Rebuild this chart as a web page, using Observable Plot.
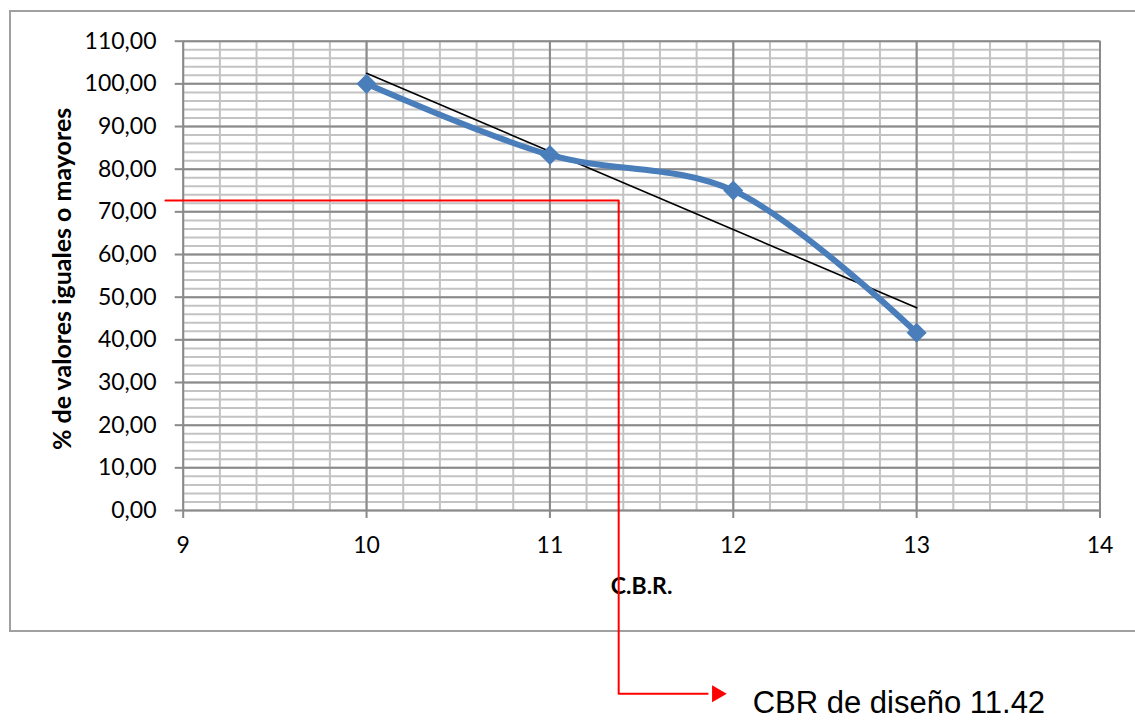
<!DOCTYPE html>
<html>
<head>
<meta charset="utf-8">
<script src="https://cdn.jsdelivr.net/npm/d3@7"></script>
<script src="https://cdn.jsdelivr.net/npm/@observablehq/plot@0.6"></script>
<style>
  html, body { margin: 0; padding: 0; background: #fff; }
  #wrap { position: relative; width: 1135px; height: 720px; overflow: hidden; }
  #border { position: absolute; left: 9px; top: 10px; width: 1140px; height: 622px; border: 2px solid #a0a0a0; box-sizing: border-box; }
  #chart { position: absolute; left: 0; top: 0; }
</style>
</head>
<body>
<div id="wrap"><div id="border"></div><div id="chart"></div></div>
<script>
// Data series
const cbr = [10, 11, 12, 13];
const pct = [100.00, 83.33, 75.00, 41.67];
// Axis ticks
const xTicks = [9, 10, 11, 12, 13, 14];
const yTicks = [0, 10, 20, 30, 40, 50, 60, 70, 80, 90, 100, 110];
const xMinorStep = 0.2;
const yMinorStep = 2;
// Annotation (red guide to design CBR)
const guideX = [8.903, 11.375, 11.375, 11.86];
const guideY = [72.67, 72.67, -42.97, -42.97];
const arrowX = [11.911];
const arrowY = [-42.97];
const noteX = [12.106];
const noteY = [-45.1];
const noteText = ["CBR de diseño 11.42"];
const xLabel = "C.B.R.";
const yLabel = "% de valores iguales o mayores";

const data = cbr.map((x, i) => ({x, y: pct[i]}));
const guide = guideX.map((x, i) => ({x, y: guideY[i]}));
const xMinor = d3.range(9, 14.0001, xMinorStep);
const yMinor = d3.range(0, 110.0001, yMinorStep);
const fmt = d => d.toFixed(2).replace(".", ",");

const chart = Plot.plot({
  width: 1135,
  height: 720,
  marginLeft: 182.7,
  marginRight: 35.5,
  marginTop: 40.7,
  marginBottom: 210,
  style: {fontFamily: "Lato, sans-serif", fontSize: "23px", color: "#000", background: "transparent", overflow: "visible"},
  x: {domain: [9, 14]},
  y: {domain: [0, 110]},
  marks: [
    Plot.ruleX(xMinor, {stroke: "#c3c3c3", strokeWidth: 2}),
    Plot.ruleY(yMinor, {stroke: "#c3c3c3", strokeWidth: 2}),
    Plot.ruleX(xTicks, {stroke: "#8a8a8a", strokeWidth: 2}),
    Plot.ruleY(yTicks, {stroke: "#8a8a8a", strokeWidth: 2}),
    Plot.axisX({ticks: xTicks, tickSize: 8, tickPadding: 18, stroke: "#8a8a8a", strokeWidth: 2, tickFormat: d => String(d), label: null, fill: "#000", fontSize: 23}),
    Plot.axisY({ticks: yTicks, tickSize: 8, tickPadding: 18.7, stroke: "#8a8a8a", strokeWidth: 2, tickFormat: fmt, label: null, fill: "#000", fontSize: 23}),
    Plot.text([xLabel], {frameAnchor: "bottom", dy: 76, textAnchor: "middle", lineAnchor: "middle", fontWeight: "bold", fontSize: 23, fill: "#000"}),
    Plot.text([yLabel], {frameAnchor: "left", dx: -120, dy: 3, rotate: -90, textAnchor: "middle", lineAnchor: "middle", fontWeight: "bold", fontSize: 25, fill: "#000"}),
    Plot.linearRegressionY(data, {x: "x", y: "y", ci: 0, stroke: "#000", strokeWidth: 1.6}),
    Plot.line(data, {x: "x", y: "y", curve: "catmull-rom", stroke: "#4a7ebb", strokeWidth: 6, strokeLinejoin: "round"}),
    Plot.dot(data, {x: "x", y: "y", symbol: "square", rotate: 45, r: 8, fill: "#4a7ebb", stroke: "none"}),
    Plot.line(guide, {x: "x", y: "y", stroke: "#ff0000", strokeWidth: 2, curve: "linear"}),
    Plot.dot(arrowX.map((x, i) => ({x, y: arrowY[i]})), {x: "x", y: "y", symbol: "triangle", rotate: 90, r: 6.3, fill: "#ff0000", stroke: "none"}),
    Plot.text(noteText.map((t, i) => ({t, x: noteX[i], y: noteY[i]})), {x: "x", y: "y", text: "t", textAnchor: "start", lineAnchor: "middle", fontFamily: "'Liberation Sans', Arial, sans-serif", fontSize: 31, fill: "#000"})
  ]
});
document.getElementById("chart").appendChild(chart);
</script>
</body>
</html>
